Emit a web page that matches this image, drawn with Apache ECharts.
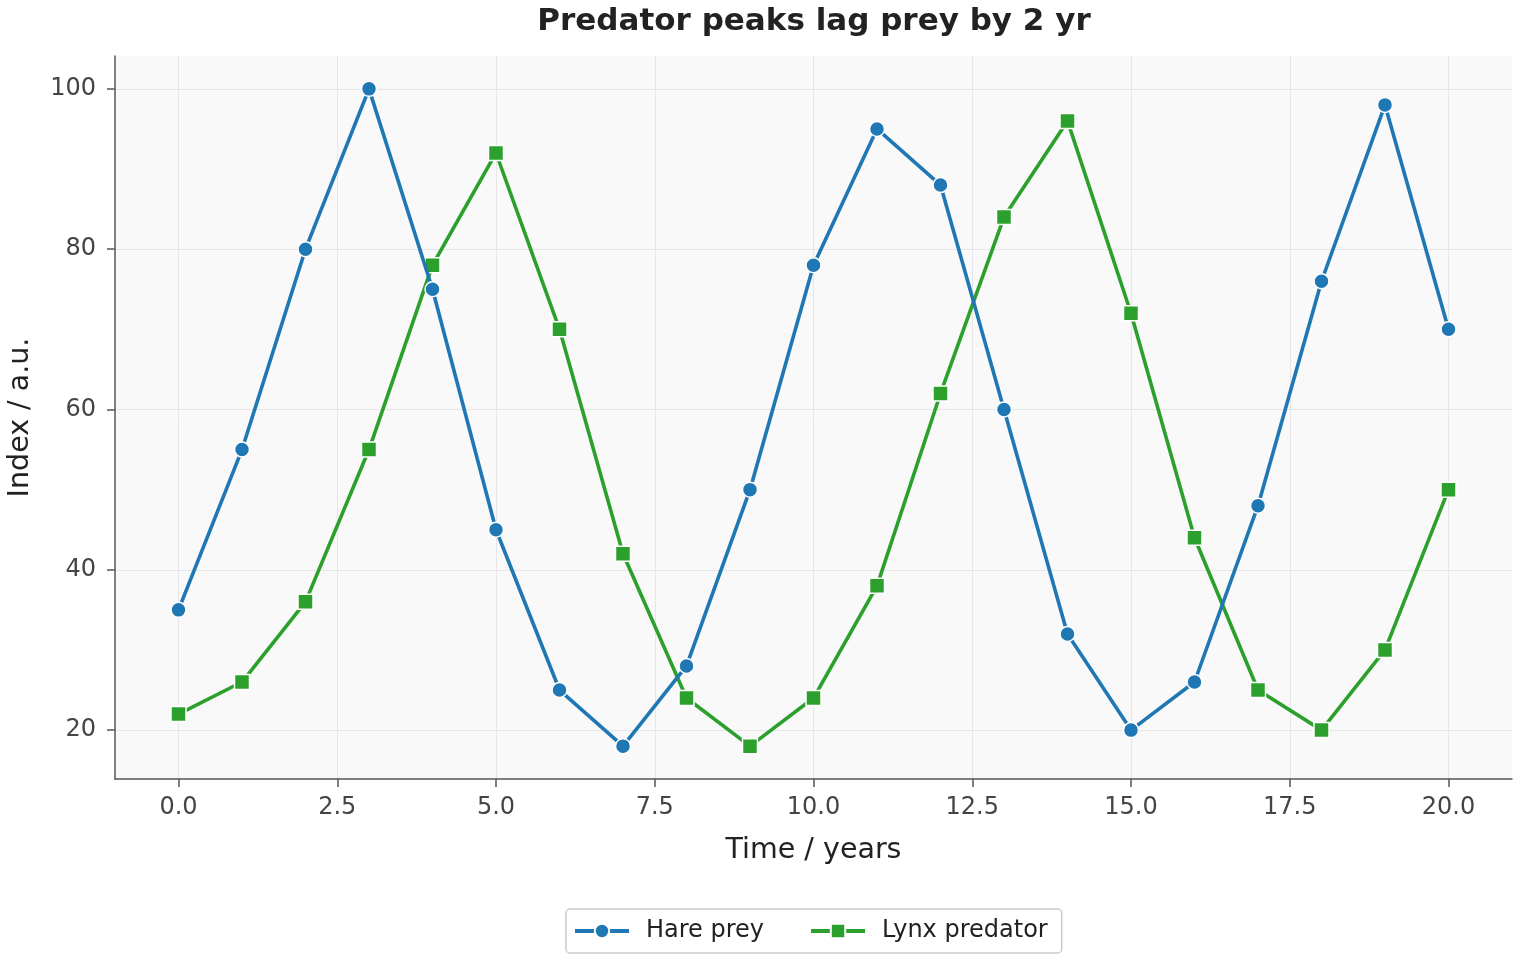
<!DOCTYPE html>
<html>
<head>
<meta charset="utf-8">
<script src="https://cdn.jsdelivr.net/npm/echarts@6/dist/echarts.min.js"></script>
<style>
  html, body { margin: 0; padding: 0; background: #fff; }
  #chart { width: 1520px; height: 960px; }
</style>
</head>
<body>
<div id="chart"></div>
<script>
var years = [0, 1, 2, 3, 4, 5, 6, 7, 8, 9, 10, 11, 12, 13, 14, 15, 16, 17, 18, 19, 20];
var hare = [35, 55, 80, 100, 75, 45, 25, 18, 28, 50, 78, 95, 88, 60, 32, 20, 26, 48, 76, 98, 70];
var lynx = [22, 26, 36, 55, 78, 92, 70, 42, 24, 18, 24, 38, 62, 84, 96, 72, 44, 25, 20, 30, 50];
var xTicks = [0, 2.5, 5, 7.5, 10, 12.5, 15, 17.5, 20];
var yTicks = [20, 40, 60, 80, 100];

function pairs(vals) {
    return years.map(function (x, i) { return [x, vals[i]]; });
}

var myChart = echarts.init(document.getElementById('chart'));
var font = 'DejaVu Sans';

option = {
    textStyle: { fontFamily: font },
    title: {
        text: 'Predator peaks lag prey by 2 yr',
        left: 814,
        textAlign: 'center',
        top: 6,
        padding: 0,
        textStyle: { fontFamily: font, fontSize: 31, fontWeight: 'bold', color: '#222' }
    },
    legend: {
        bottom: 7,
        left: 566,
        itemWidth: 54,
        itemHeight: 18,
        itemGap: 45,
        padding: [10, 14, 10, 7],
        borderColor: '#cccccc',
        borderWidth: 1.5,
        borderRadius: 4,
        lineStyle: { width: 4 },
        textStyle: { fontFamily: font, fontSize: 24, color: '#222', padding: [0, 0, 0, 12] },
        data: ['Hare prey', 'Lynx predator']
    },
    grid: {
        left: 115, right: 8, top: 56, bottom: 181,
        outerBoundsMode: 'none',
        containLabel: false,
        show: true,
        backgroundColor: '#f9f9f9',
        borderWidth: 0
    },
    xAxis: {
        type: 'value',
        min: -1,
        max: 21,
        name: 'Time / years',
        nameLocation: 'middle',
        nameGap: 57,
        nameTextStyle: { fontFamily: font, fontSize: 28.5, color: '#222' },
        axisLine: { show: true, onZero: false, lineStyle: { color: '#555', width: 1.5 } },
        axisTick: { show: true, length: 8, lineStyle: { color: '#555', width: 1.5 }, customValues: xTicks },
        axisLabel: {
            customValues: xTicks,
            margin: 17,
            fontSize: 24, color: '#444', fontFamily: font,
            formatter: function (v) { return v.toFixed(1); }
        },
        splitLine: { show: true, lineStyle: { color: '#e6e6ea', width: 1 } }
    },
    yAxis: {
        type: 'value',
        min: 13.9,
        max: 104.1,
        name: 'Index / a.u.',
        nameLocation: 'middle',
        nameGap: 80,
        nameTextStyle: { fontFamily: font, fontSize: 28.5, color: '#222' },
        axisLine: { show: true, onZero: false, lineStyle: { color: '#555', width: 1.5 } },
        axisTick: { show: true, length: 8, lineStyle: { color: '#555', width: 1.5 }, customValues: yTicks },
        axisLabel: {
            customValues: yTicks,
            margin: 19,
            fontSize: 24, color: '#444', fontFamily: font
        },
        splitLine: { show: true, lineStyle: { color: '#e6e6ea', width: 1 } }
    },
    series: [
        {
            name: 'Hare prey',
            type: 'line',
            data: pairs(hare),
            symbol: 'circle',
            symbolSize: 15,
            color: '#1f77b4',
            lineStyle: { width: 3.6, color: '#1f77b4' },
            itemStyle: { color: '#1f77b4', borderColor: '#fff', borderWidth: 1.5 },
            z: 3
        },
        {
            name: 'Lynx predator',
            type: 'line',
            data: pairs(lynx),
            symbol: 'rect',
            symbolSize: 15,
            color: '#2ca02c',
            lineStyle: { width: 3.6, color: '#2ca02c' },
            itemStyle: { color: '#2ca02c', borderColor: '#fff', borderWidth: 1.5 },
            z: 2
        }
    ]
};

myChart.setOption(option);
</script>
</body>
</html>
